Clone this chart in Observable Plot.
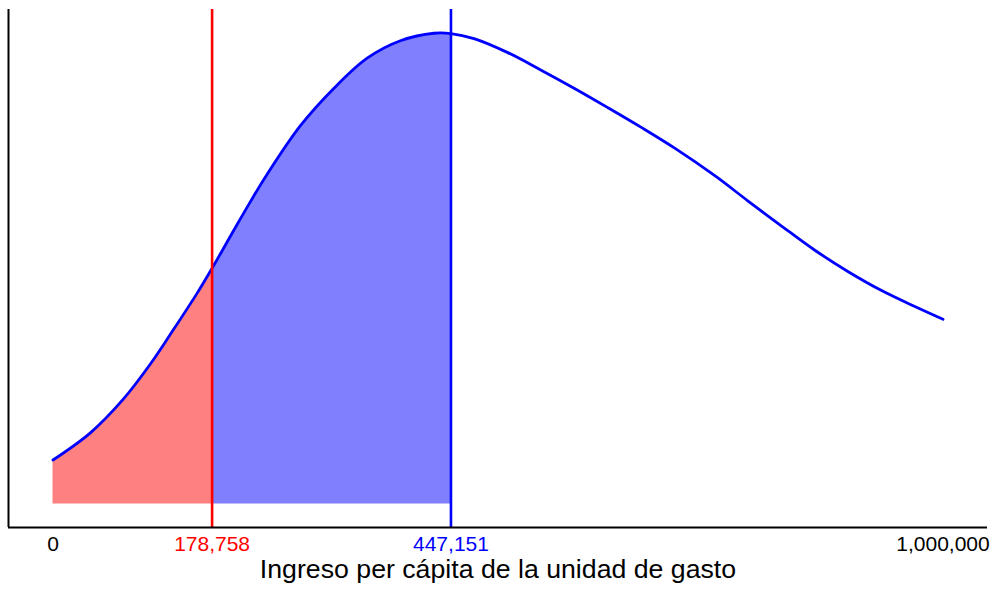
<!DOCTYPE html>
<html>
<head>
<meta charset="utf-8">
<script src="https://cdn.jsdelivr.net/npm/d3@7"></script>
<script src="https://cdn.jsdelivr.net/npm/@observablehq/plot@0.6"></script>
<style>
  html, body { margin: 0; padding: 0; background: #fff; }
  #chart svg { display: block; }
</style>
</head>
<body>
<div id="chart"></div>
<script>
// Density curve (relative density, peak = 1)
const incomes = [0, 42000, 79000, 109000, 135000, 162000, 178758, 203000, 222000, 241000,
  278000, 316000, 353000, 391000, 428000, 447151, 473000, 511000, 548000, 586000,
  623000, 661000, 699000, 744000, 781000, 819000, 856000, 894000, 931000, 969000, 1000000];
const densities = [0.0933, 0.1510, 0.2225, 0.2961, 0.3692, 0.4477, 0.5005, 0.5807, 0.6426, 0.7012,
  0.8032, 0.8834, 0.9466, 0.9841, 0.9996, 0.9989, 0.9881, 0.9584, 0.9217, 0.8823,
  0.8420, 0.7996, 0.7550, 0.6965, 0.6433, 0.5896, 0.5387, 0.4927, 0.4532, 0.4187, 0.3921];

const povertyLine = 178758;
const medianLine = 447151;

const tickValues = [0, 178758, 447151, 1000000];
const tickLabels = ["0", "178,758", "447,151", "1,000,000"];
const tickColors = ["#000000", "#ff0000", "#0000ff", "#000000"];

const xLabel = "Ingreso per cápita de la unidad de gasto";

const xDomain = [-50000, 1050000];
const yDomain = [-0.05, 1.05];

const data = incomes.map((x, i) => ({x, y: densities[i]}));
const ticks = tickValues.map((v, i) => ({v, label: tickLabels[i], color: tickColors[i]}));
const curve = "catmull-rom";

const chart = Plot.plot({
  width: 992,
  height: 591,
  marginLeft: 8,
  marginRight: 5,
  marginTop: 9,
  marginBottom: 64,
  style: {fontFamily: "'Liberation Sans', Arial, sans-serif", background: "#fff"},
  x: {domain: xDomain, axis: null},
  y: {domain: yDomain, axis: null},
  marks: [
    Plot.areaY(data.filter(d => d.x <= povertyLine), {x: "x", y1: 0, y2: "y", fill: "#ff8080", curve}),
    Plot.areaY(data.filter(d => d.x >= povertyLine && d.x <= medianLine), {x: "x", y1: 0, y2: "y", fill: "#8080ff", curve}),
    Plot.line(data, {x: "x", y: "y", stroke: "#0000ff", strokeWidth: 2.8, curve}),
    Plot.ruleX([povertyLine], {stroke: "#ff0000", strokeWidth: 2.6}),
    Plot.ruleX([medianLine], {stroke: "#0000ff", strokeWidth: 2.6}),
    Plot.ruleX([xDomain[0]], {stroke: "#000", strokeWidth: 2}),
    Plot.ruleY([yDomain[0]], {stroke: "#000", strokeWidth: 2}),
    Plot.text(ticks, {x: "v", text: "label", fill: "color", frameAnchor: "bottom", dy: 23, fontSize: 21}),
    Plot.text([xLabel], {text: d => d, frameAnchor: "bottom", dy: 50.5, fontSize: 26.7, fill: "#000"})
  ]
});
document.getElementById("chart").appendChild(chart);
</script>
</body>
</html>
